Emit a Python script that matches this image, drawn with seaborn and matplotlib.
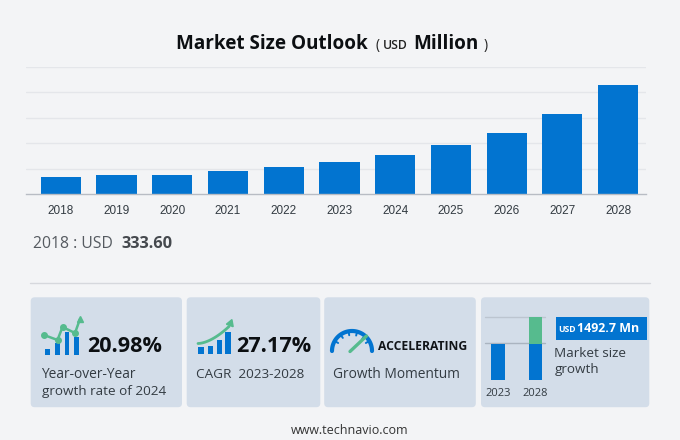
import numpy as np
import pandas as pd
import matplotlib
matplotlib.use("Agg")
import matplotlib.pyplot as plt
from matplotlib.patches import FancyBboxPatch, Rectangle
import seaborn as sns

years = ["2018","2019","2020","2021","2022","2023","2024","2025","2026","2027","2028"]
market_size = [333.6, 378, 385, 450, 542, 640, 774, 958, 1207, 1578, 2132.7]
mini_years = ["2023", "2028"]
mini_base = [1.0, 1.0]
mini_growth = [0.0, 0.75]

BG = "#f3f4f6"; CARD = "#d3dde9"; BLUE = "#0274d0"; GREEN = "#56bb8e"; DARK = "#333b42"
sns.set_theme(style="white")
plt.rcParams["font.family"] = ["Open Sans", "DejaVu Sans"]

W, H = 680, 440
fig = plt.figure(figsize=(W/100, H/100), dpi=100, facecolor=BG)

def px_axes(x0, y0, x1, y1, **kw):
    return fig.add_axes([x0/W, 1-y1/H, (x1-x0)/W, (y1-y0)/H], **kw)

ov = px_axes(0, 0, W, H)
ov.set_xlim(0, W); ov.set_ylim(H, 0); ov.axis("off")

# main chart
ax = px_axes(26, 66.7, 646, 194.3)
ax.patch.set_alpha(0)
df = pd.DataFrame({"year": years, "size": market_size})
sns.barplot(data=df, x="year", y="size", color=BLUE, saturation=1, width=0.72, linewidth=0, ax=ax)
ax.set_xlim(-0.625, 10.5); ax.set_ylim(0, 2500)
ax.set_yticks([500, 1000, 1500, 2000, 2500]); ax.set_yticklabels([])
ax.yaxis.grid(True, color="#e4e6ea", lw=1); ax.set_axisbelow(True)
ax.set_xlabel(""); ax.set_ylabel("")
sns.despine(ax=ax, left=True, top=True, right=True)
ax.spines["bottom"].set_color("#b8bcc4"); ax.spines["bottom"].set_linewidth(1)
ax.tick_params(axis="x", length=0, pad=8, labelsize=8.5, labelcolor=DARK, labelfontfamily="Liberation Sans")
ax.tick_params(axis="y", length=0)

def T(x, y, s, size, weight="normal", color=DARK, ha="left", family=None):
    return ov.text(x, y, s, fontsize=size, fontweight=weight, color=color, ha=ha, va="center",
                   **({"family": family} if family else {}))

# title
T(175.5, 44, "Market Size Outlook", 13.6, "bold", "#0c0f12")
T(376, 45, "(", 10, color="#222222")
T(383, 45.5, "USD", 8.8, "semibold", "#222222")
T(413, 44, "Million", 13.6, "bold", "#0c0f12")
T(484, 45, ")", 10, color="#222222")

# first-year note
T(33, 244, "2018 : USD", 11.3, color="#555a60")
T(121, 243.5, "333.60", 11.8, "bold", "#45494e")
ov.plot([30, 650], [283.5, 283.5], color="#d6d8dd", lw=1)

# cards
for x0, x1 in [(30.7, 182), (186.7, 320.3), (324.2, 475.8), (481, 649.3)]:
    ov.add_patch(FancyBboxPatch((x0+3, 297.3+3), x1-x0-6, 407.2-297.3-6,
                                boxstyle="round,pad=3,rounding_size=4", fc=CARD, ec="none"))

# card 1 icon
for x0, x1, top in [(45, 50, 349.5), (55, 59.5, 343.5), (64.5, 69, 332), (73.5, 78.5, 337)]:
    ov.add_patch(Rectangle((x0, top), x1-x0, 355-top, fc=BLUE, ec="none"))
lx = [44, 57.5, 62.5, 75, 80]; ly = [335, 340, 327, 333, 319]
ov.plot(lx, ly, color=GREEN, lw=1.8, solid_capstyle="round")
ov.plot(lx[:-1], ly[:-1], "o", color=GREEN, ms=4)
ov.plot([80], [319], marker="^", color=GREEN, ms=5)
T(87.2, 346.5, "20.98%", 15.6, "bold", "#0c0f12")
T(41.5, 374.5, "Year-over-Year", 9.9)
T(41.5, 391, "growth rate of 2024", 9.7)

# card 2 icon
for x0, x1, top in [(198, 204, 347), (207.5, 213, 346), (216.5, 222, 340), (225, 231, 332)]:
    ov.add_patch(Rectangle((x0, top), x1-x0, 354-top, fc=BLUE, ec="none"))
t = np.linspace(0, 1, 30)
ov.plot(198+31*t, 343.5-17*t**1.7, color=GREEN, lw=2)
ov.plot([230], [323], marker=(3, 0, -20), color=GREEN, ms=6)
T(236, 346.5, "27.17%", 15.6, "bold", "#0c0f12")
T(195.5, 374.5, "CAGR  2023-2028", 9.7)

# card 3 gauge
a = np.linspace(np.pi, 0, 60)
ov.plot(352+20*np.cos(a), 351-20*np.sin(a), color=BLUE, lw=3)
for ang in np.radians([150, 125, 100, 75, 50, 30]):
    ov.plot([352+20*np.cos(ang), 352+16*np.cos(ang)], [351-20*np.sin(ang), 351-16*np.sin(ang)], color=BLUE, lw=1.4)
ov.plot([350, 366.5], [351.5, 336], color=GREEN, lw=2.4, solid_capstyle="round")
T(377.5, 347, "ACCELERATING", 8.7, "bold", "#111418", family="Open Sans")
T(333, 374.5, "Growth Momentum", 9.9)

# card 4 mini chart
mini = px_axes(484, 316.7, 546, 380)
mini.patch.set_alpha(0)
md = pd.DataFrame({"year": mini_years, "base": mini_base, "growth": mini_growth})
sns.barplot(data=md, x="year", y="base", color=BLUE, saturation=1, width=0.373, linewidth=0, ax=mini)
mini.bar(md["year"], md["growth"], bottom=md["base"], color=GREEN, width=0.373, linewidth=0)
mini.set_xlim(-0.373, 1.28); mini.set_ylim(0, 1.75)
mini.set_xlabel(""); mini.set_ylabel(""); mini.set_yticks([])
sns.despine(ax=mini, left=True, bottom=True)
mini.tick_params(axis="x", length=0, pad=6, labelsize=8, labelcolor=DARK)
ov.plot([485, 545], [316.7, 316.7], color="#bcc5d0", lw=1)
ov.plot([485, 545], [343.5, 343.5], color="#aab4c0", lw=1)
ov.add_patch(Rectangle((556, 317.3), 91, 23, fc=BLUE, ec="none"))
T(558.5, 330, "USD", 6.2, "bold", "white")
T(577, 329, "1492.7 Mn", 8.9, "bold", "white")
T(554.5, 353.5, "Market size", 9.7)
T(554.5, 370, "growth", 9.7)

T(350, 431, "www.technavio.com", 9, color="#333333", ha="center")

fig.savefig("out.png", dpi=100, facecolor=BG)
